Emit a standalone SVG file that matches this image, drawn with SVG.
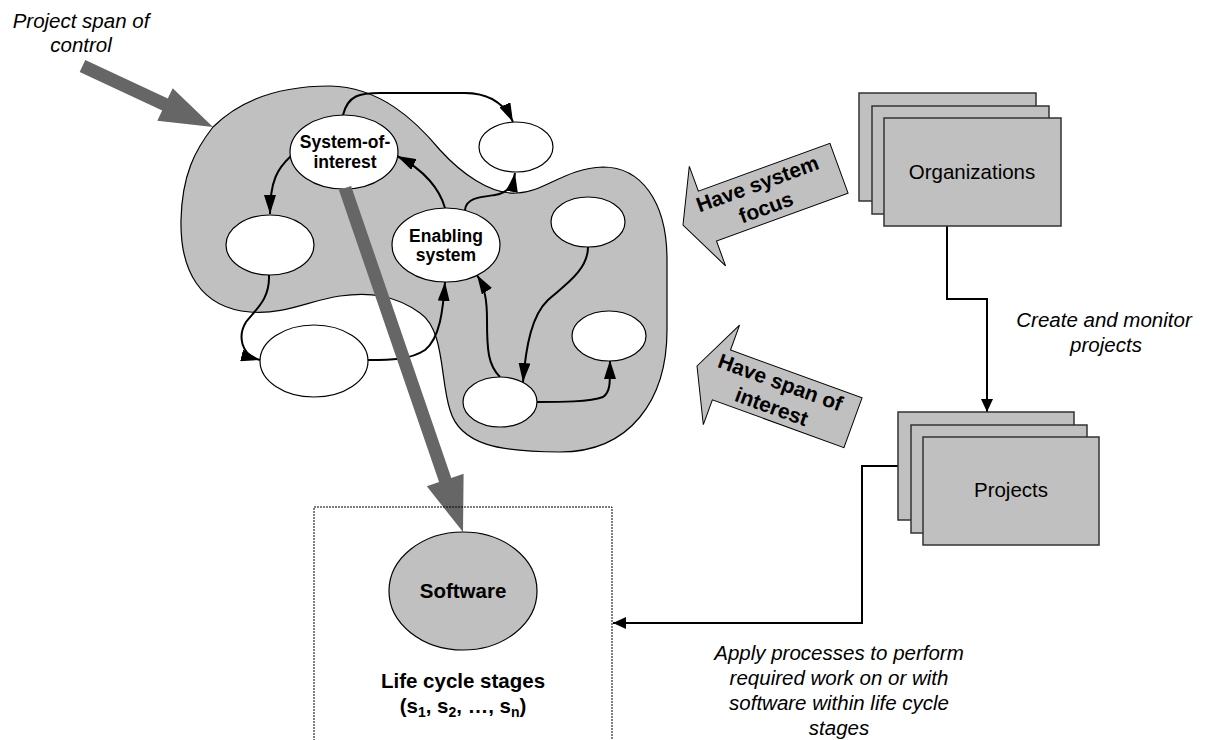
<svg xmlns="http://www.w3.org/2000/svg" width="1208" height="740" viewBox="0 0 1208 740">
<style>
.blob{fill:#c0c0c0;stroke:#000;stroke-width:1.2}
.wn{fill:#fff;stroke:#000;stroke-width:1.2}
.gn{fill:#c0c0c0;stroke:#000;stroke-width:1.2}
.box{fill:#c0c0c0;stroke:#333;stroke-width:1.5}
.big{fill:#666666;stroke:none}
.blk{fill:#c0c0c0;stroke:#000;stroke-width:1}
.c{fill:none;stroke:#000;stroke-width:2}
.nl{font-family:"Liberation Sans",Arial,sans-serif;font-weight:bold;font-size:17.5px;text-anchor:middle;fill:#000}
.bl{font-family:"Liberation Sans",Arial,sans-serif;font-weight:bold;font-size:20.5px;text-anchor:middle;fill:#000}
.al{font-family:"Liberation Sans",Arial,sans-serif;font-weight:bold;font-size:21px;text-anchor:middle;fill:#000}
.it{font-family:"Liberation Sans",Arial,sans-serif;font-style:italic;font-size:20.5px;text-anchor:middle;fill:#000}
.rl{font-family:"Liberation Sans",Arial,sans-serif;font-size:20.5px;text-anchor:middle;fill:#000}
</style>
<defs>
<marker id="ah" markerUnits="userSpaceOnUse" markerWidth="19" markerHeight="12" refX="19" refY="6" orient="auto">
<path d="M0,0 L19,6 L0,12 z" fill="#000"/>
</marker>
<marker id="as" markerUnits="userSpaceOnUse" markerWidth="13" markerHeight="12" refX="13" refY="6" orient="auto">
<path d="M0,0 L13,6 L0,12 z" fill="#000"/>
</marker>
</defs>

<g id="span-area">
<path class="blob" d="M213,127 C240,100 280,86 330,86 C380,87 415,120 440,150 C460,172 490,195 517,193 C545,192 565,168 603,167 C640,167 667,200 667,260 L667,330 C667,400 630,452 560,452 C500,452 460,445 450,410 C440,380 445,330 420,313 C395,295 370,292 340,296 C310,300 285,315 250,312 C200,308 180,270 181,220 C182,175 195,150 213,127 Z"/>
</g>

<g id="connectors">
<path class="c" marker-end="url(#ah)" d="M343,115 C348,95 360,93 380,93 L465,93 C490,93 505,105 513,122"/>
<path class="c" marker-end="url(#ah)" d="M291,156 C278,168 270,180 270,214"/>
<path class="c" marker-end="url(#ah)" d="M445,208 C440,190 425,170 397,156"/>
<path class="c" marker-end="url(#ah)" d="M465,210 C466,198 480,197 495,195 C508,193 513,185 515,173"/>
<path class="c" marker-end="url(#ah)" d="M269,275 C270,300 255,310 246,322 C238,335 240,355 260,360"/>
<path class="c" marker-end="url(#ah)" d="M368,360 C390,360 410,360 425,350 C440,338 443,310 445,282"/>
<path class="c" marker-end="url(#ah)" d="M500,377 C488,365 487,350 487,320 C487,300 485,288 477,275"/>
<path class="c" marker-end="url(#ah)" d="M588,247 C588,270 565,285 548,300 C532,315 526,345 523,382"/>
<path class="c" marker-end="url(#ah)" d="M537,402 C560,402 590,402 603,397 C611,392 610,380 610,360"/>
<path class="c" marker-end="url(#as)" d="M947,226 L947,299 L987,299 L987,412"/>
<path class="c" marker-end="url(#as)" d="M898,466 L862,466 L862,623 L613,623"/>
</g>

<g id="system-of-interest">
<ellipse class="wn" cx="344" cy="152" rx="54" ry="37"/>
<text class="nl" x="345" y="147.5">System-of-</text>
<text class="nl" x="345" y="168">interest</text>
</g>
<g id="node-top-right"><ellipse class="wn" cx="516" cy="147" rx="37" ry="25"/></g>
<g id="node-left"><ellipse class="wn" cx="270" cy="245" rx="44" ry="30"/></g>
<g id="enabling-system">
<ellipse class="wn" cx="446" cy="245" rx="54" ry="37"/>
<text class="nl" x="446" y="241.5">Enabling</text>
<text class="nl" x="446" y="261">system</text>
</g>
<g id="node-right-top"><ellipse class="wn" cx="588" cy="222" rx="37" ry="25"/></g>
<g id="node-bottom-left"><ellipse class="wn" cx="314" cy="361" rx="54" ry="36"/></g>
<g id="node-right-bottom"><ellipse class="wn" cx="609" cy="336" rx="37" ry="25"/></g>
<g id="node-bottom"><ellipse class="wn" cx="500" cy="402" rx="37" ry="25"/></g>

<g id="project-span-arrow">
<polygon class="big" points="85.3,60.1 167.8,98.6 172.7,88.2 213,127 157.3,120.8 162.2,110.4 79.7,71.9"/>
<text class="it" x="81" y="28">Project span of</text>
<text class="it" x="81" y="52">control</text>
</g>

<g id="software-arrow">
<polygon class="big" points="351.1,185.9 451.3,477.9 463.6,473.7 463,532 426.8,486.3 439.1,482.1 338.9,190.1"/>
</g>

<g id="life-cycle">
<rect x="314" y="507" width="298" height="260" fill="none" stroke="#000" stroke-width="1" stroke-dasharray="2,1"/>
<ellipse class="gn" cx="463" cy="591" rx="74" ry="59"/>
<text class="bl" x="463" y="598">Software</text>
<text class="bl" x="463" y="688">Life cycle stages</text>
<text class="bl" x="463" y="712.5">(s<tspan font-size="14" dy="4">1</tspan><tspan dy="-4">, s</tspan><tspan font-size="14" dy="4">2</tspan><tspan dy="-4">, …, s</tspan><tspan font-size="14" dy="4">n</tspan><tspan dy="-4">)</tspan></text>
</g>

<g id="have-system-focus" transform="translate(683,225) rotate(-20)">
<polygon class="blk" points="0,0 26,-53 26,-26.5 166,-26.5 166,26.5 26,26.5 26,53"/>
<text class="al" x="84" y="-6">Have system</text>
<text class="al" x="84" y="19">focus</text>
</g>

<g id="have-span-of-interest" transform="translate(697,366) rotate(20)">
<polygon class="blk" points="0,0 26,-53 26,-26.5 166,-26.5 166,26.5 26,26.5 26,53"/>
<text class="al" x="84" y="-6">Have span of</text>
<text class="al" x="84" y="20">interest</text>
</g>

<g id="organizations">
<rect class="box" x="859" y="93" width="177" height="108"/>
<rect class="box" x="872" y="106" width="177" height="108"/>
<rect class="box" x="884" y="118" width="177" height="108"/>
<text class="rl" x="972" y="179">Organizations</text>
</g>

<g id="projects">
<rect class="box" x="898" y="412" width="176" height="108"/>
<rect class="box" x="911" y="425" width="176" height="108"/>
<rect class="box" x="923" y="437" width="176" height="108"/>
<text class="rl" x="1011" y="497">Projects</text>
</g>

<g id="labels">
<text class="it" x="1104" y="327">Create and monitor</text>
<text class="it" x="1106" y="352">projects</text>
<text class="it" x="839" y="660">Apply processes to perform</text>
<text class="it" x="839" y="685">required work on or with</text>
<text class="it" x="839" y="710">software within life cycle</text>
<text class="it" x="839" y="735">stages</text>
</g>
</svg>
